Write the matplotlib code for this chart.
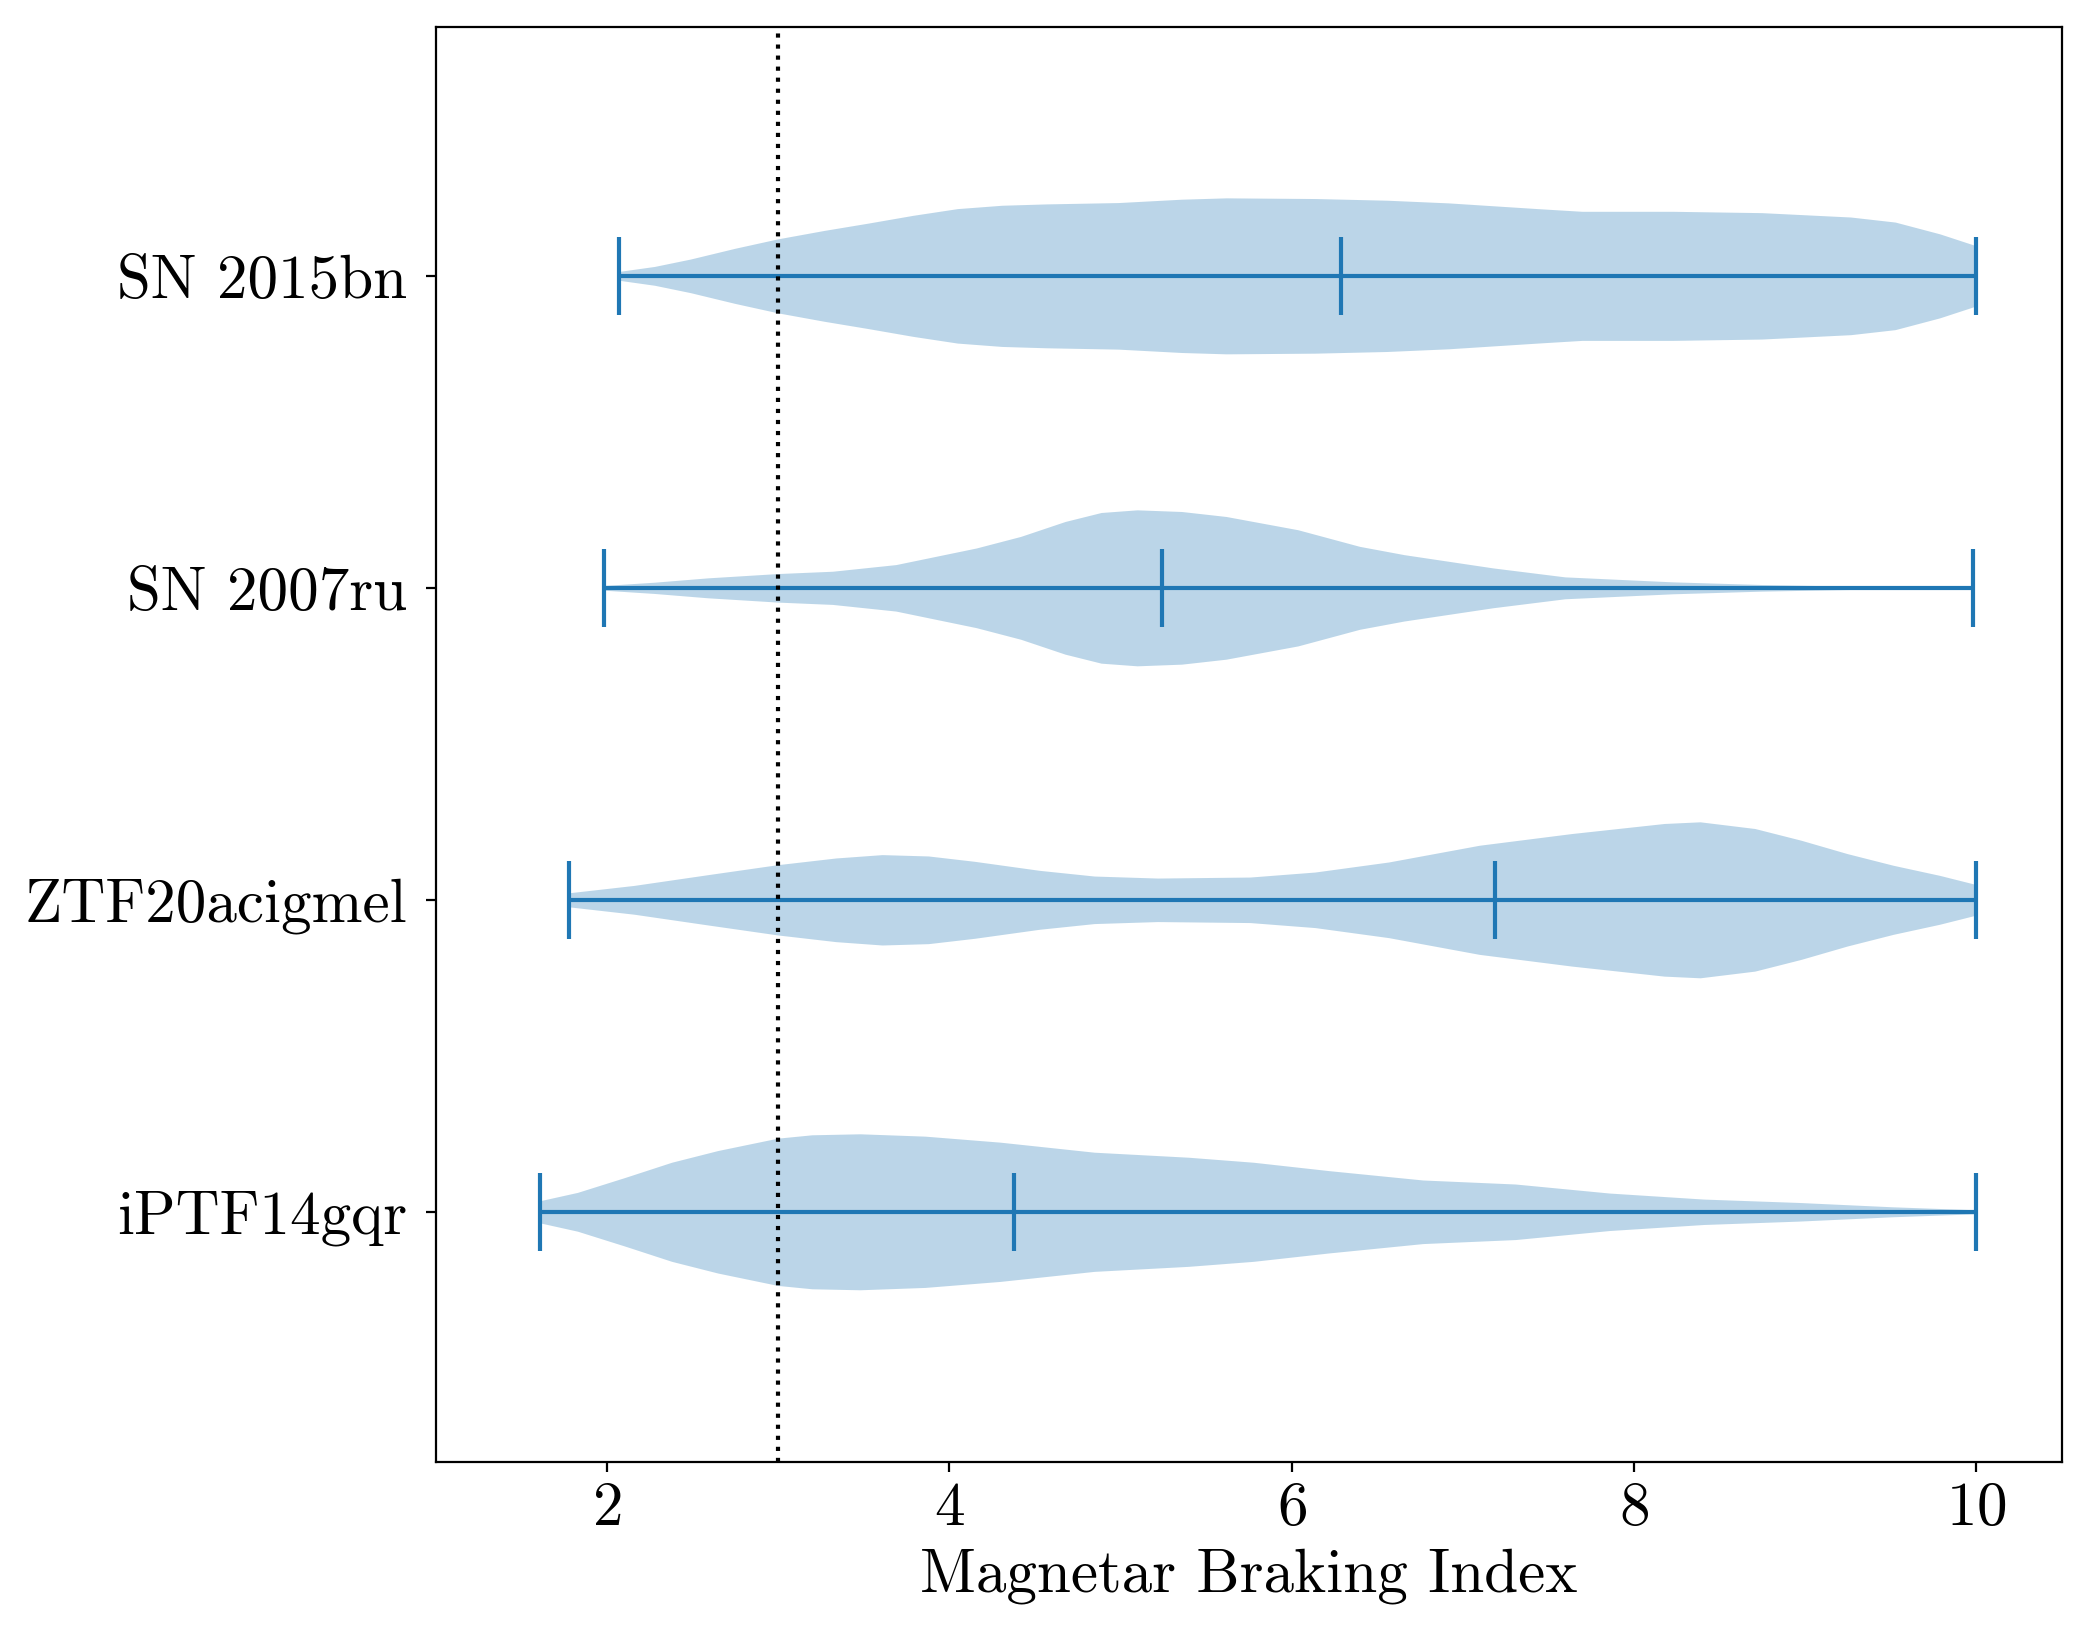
import matplotlib
matplotlib.use("Agg")
import matplotlib.pyplot as plt
import numpy as np

plt.rcParams['font.family'] = 'serif'
plt.rcParams['font.serif'] = ['cmr10']
plt.rcParams['mathtext.fontset'] = 'cm'
plt.rcParams['axes.formatter.use_mathtext'] = True

names = ["iPTF14gqr", "ZTF20acigmel", "SN 2007ru", "SN 2015bn"]

# density profiles (half-width, arbitrary units)
iptf_x = [1.61, 1.83, 2.11, 2.38, 2.65, 3.0, 3.20, 3.48, 3.86, 4.30, 4.85, 5.40, 5.78,
          6.22, 6.77, 7.31, 7.86, 8.41, 8.96, 9.51, 10.0]
iptf_d = [33, 58, 103, 148, 183, 220, 230, 233, 226, 208, 178, 163, 148,
          123, 95, 83, 56, 38, 28, 15, 6]

ztf_x = [1.78, 2.16, 2.59, 3.0, 3.34, 3.61, 3.88, 4.15, 4.53, 4.85, 5.22, 5.76, 6.14,
         6.57, 7.10, 7.64, 8.18, 8.39, 8.71, 8.98, 9.25, 9.52, 9.79, 10.0]
ztf_d = [21, 43, 75, 105, 125, 135, 131, 115, 88, 71, 65, 68, 83,
         113, 163, 198, 228, 233, 213, 178, 138, 103, 73, 46]

sn07_x = [1.98, 2.28, 2.59, 3.0, 3.32, 3.69, 4.16, 4.42, 4.68, 4.89, 5.10, 5.36, 5.62,
          6.04, 6.40, 6.66, 7.18, 7.60, 8.23, 8.75, 9.27, 9.98]
sn07_d = [7, 17, 30, 43, 50, 70, 120, 155, 200, 227, 235, 230, 215,
          175, 125, 100, 60, 33, 18, 10, 5, 3]

sn15_x = [2.07, 2.28, 2.49, 2.75, 3.0, 3.27, 3.53, 3.79, 4.05, 4.31, 4.57, 4.99, 5.36,
          5.62, 6.14, 6.56, 6.92, 7.44, 7.70, 8.23, 8.75, 9.27, 9.53, 9.79, 10.0]
sn15_d = [13, 28, 50, 82, 110, 135, 157, 180, 200, 210, 214, 218, 228,
          232, 230, 225, 217, 200, 192, 192, 188, 175, 160, 125, 90]

medians = [4.38, 7.19, 5.24, 6.29]

profiles = [(iptf_x, iptf_d), (ztf_x, ztf_d), (sn07_x, sn07_d), (sn15_x, sn15_d)]

vpstats = []
for (xs, ds), med in zip(profiles, medians):
    xs = np.array(xs)
    vpstats.append({
        "coords": xs,
        "vals": np.array(ds, dtype=float),
        "mean": med,
        "median": med,
        "min": xs[0],
        "max": xs[-1],
    })

fig = plt.figure(figsize=(10.46, 8.21), dpi=200)
ax = fig.add_axes([0.2084, 0.1097, 0.7771, 0.8740])

pos = [1, 2, 3, 4]
ax.violin(vpstats, positions=pos, orientation='horizontal', widths=0.5,
          showmeans=False, showextrema=True, showmedians=True)
ax.axvline(3, color='k', ls=':', lw=1.5)

ax.set_yticks(pos)
ax.set_yticklabels(names)
ax.set_xticks([2, 4, 6, 8, 10])
ax.set_xlim(1.0, 10.5)
ax.set_ylim(0.2, 4.8)
ax.tick_params(labelsize=22)
ax.tick_params(axis='y', pad=7)
ax.set_xlabel("Magnetar Braking Index", fontsize=22)

fig.savefig("out.png", dpi=200)
